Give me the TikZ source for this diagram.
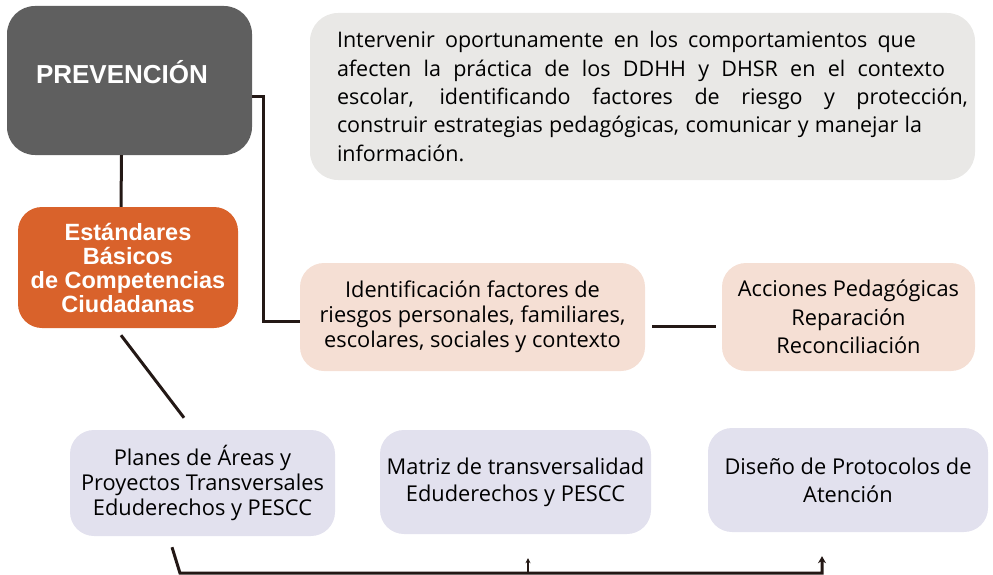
\documentclass[tikz,border=0pt]{standalone}
\usepackage{fontspec}
\setmainfont{Open Sans}
\newfontfamily\headfont{Liberation Sans}
\usetikzlibrary{positioning,arrows.meta,calc}
\definecolor{prevgray}{HTML}{5F5F5F}
\definecolor{notegray}{HTML}{E9E8E6}
\definecolor{ccborange}{HTML}{D9622B}
\definecolor{peach}{HTML}{F5DFD4}
\definecolor{lavender}{HTML}{E2E1EE}
\definecolor{linedark}{HTML}{231815}
\newcommand{\noteline}[2]{\makebox[#1][s]{\spaceskip=.25em plus 1fil\relax#2}}

\begin{document}
\begin{tikzpicture}[x=1pt,y=-1pt,>={Stealth[length=7pt,width=8pt]},
   every node/.style={font=\fontsize{21.8}{25}\selectfont},
   box/.style={rounded corners=24pt,inner sep=0pt,align=center},
   conn/.style={draw=linedark,line width=3pt}]
  \useasboundingbox (0,0) rectangle (993,575);
  \node[box,fill=prevgray,rounded corners=28pt,minimum width=245pt,minimum height=149pt] (prev) at (129.5,80.5) {};
  \node[text=white,font=\headfont\fontsize{26}{30}\selectfont\bfseries] (prevtitle) at (122,72) {PREVENCIÓN};
  \node[box,fill=notegray,rounded corners=28pt,minimum width=665pt,minimum height=167pt,
     align=left,text width=611pt,font=\fontsize{21.5}{28.3}\selectfont] (note) at (642.5,96.5)
     {\noteline{579pt}{Intervenir oportunamente en los comportamientos que}\\
      \noteline{608pt}{afecten la práctica de los DDHH y DHSR en el contexto}\\
      \noteline{631pt}{escolar, identificando factores de riesgo y protección,}\\
      \noteline{585pt}{construir estrategias pedagógicas, comunicar y manejar la}\\
      información.};
  \node[box,fill=ccborange,text=white,minimum width=220pt,minimum height=121pt,
     font=\headfont\fontsize{23.5}{24}\selectfont\bfseries] (ccb) at (128,267.5)
     {Estándares\\Básicos\\de Competencias\\Ciudadanas};
  \node[box,fill=peach,minimum width=345pt,minimum height=108pt] (ident) at (472.5,317)
     {Identificación factores de\\riesgos personales, familiares,\\escolares, sociales y contexto};
  \node[box,fill=peach,minimum width=253pt,minimum height=108pt,
     font=\fontsize{21.8}{28.5}\selectfont] (acc) at (848.5,317)
     {Acciones Pedagógicas\\Reparación\\Reconciliación};
  \node[box,fill=lavender,minimum width=265pt,minimum height=106pt] (planes) at (202.5,483)
     {Planes de Áreas y\\Proyectos Transversales\\Eduderechos y PESCC};
  \node[box,fill=lavender,minimum width=271pt,minimum height=104pt,
     font=\fontsize{21.8}{27}\selectfont] (matriz) at (515.5,482)
     {Matriz de transversalidad\\Eduderechos y PESCC};
  \node[box,fill=lavender,minimum width=280pt,minimum height=104pt,
     font=\fontsize{21.8}{28}\selectfont] (proto) at (848,480)
     {Diseño de Protocolos de\\Atención};
  \draw[conn] ([xshift=-8pt]prev.south) -- ([xshift=-7pt]ccb.north);
  \draw[conn] ([yshift=-16.5pt]prev.east) -- ++(11,0) |- ([yshift=-4pt]ident.west);
  \draw[conn] ([xshift=7pt,yshift=-9pt]ident.east) -- ([xshift=-6pt,yshift=-9pt]acc.west);
  \draw[conn] ([xshift=-7pt,yshift=-7pt]ccb.south) -- ([xshift=-18.5pt,yshift=12pt]planes.north);
  \draw[conn,->] ([xshift=-30.5pt,yshift=-11pt]planes.south) -- ++(8,26) -| ([xshift=-26pt,yshift=-24pt]proto.south);
  \draw[conn,line width=2pt,-{Stealth[length=5pt,width=5pt]}] ([xshift=12.5pt,yshift=-39pt]matriz.south) -- ([xshift=12.5pt,yshift=-24pt]matriz.south);
\end{tikzpicture}
\end{document}
